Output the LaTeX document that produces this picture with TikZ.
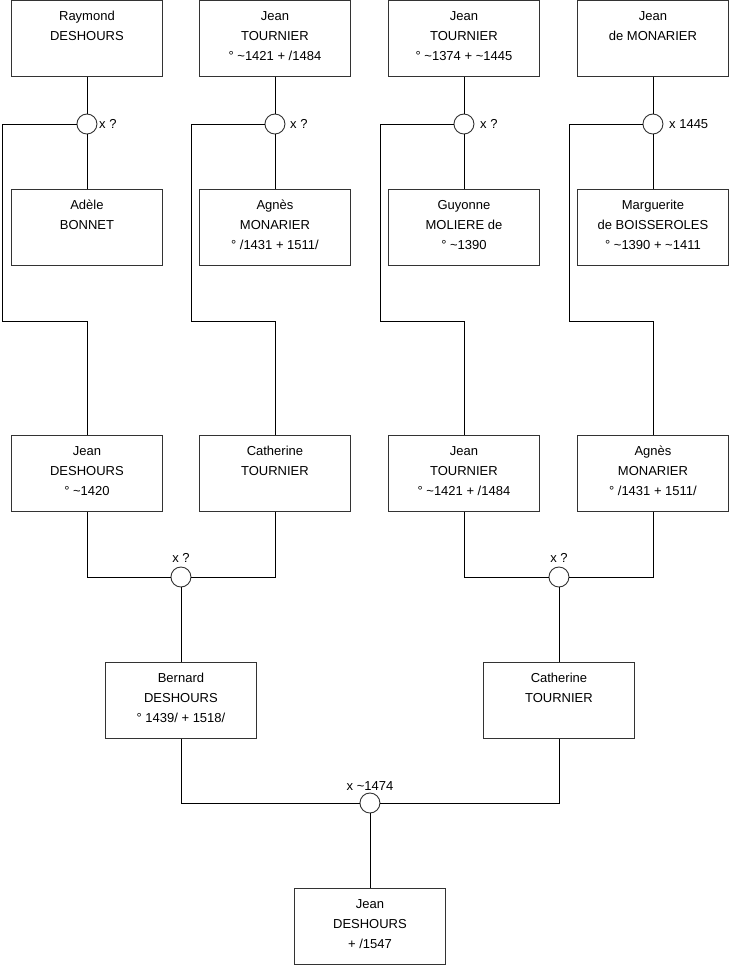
\documentclass[tikz,border=0pt]{standalone}
\usepackage{fontspec}
\setmainfont{Liberation Sans}
\newcommand{\ptxt}[1]{\parbox[c][76pt][t]{151pt}{\centering\fontsize{13}{20}\selectfont\rule{0pt}{20.5pt}#1}}
\begin{document}
\begin{tikzpicture}[x=1pt,y=-1pt,
  person/.style={draw=black!80, line width=0.9pt, inner sep=0pt, anchor=north west, minimum width=151pt, minimum height=76pt},
  marr/.style={draw=black!80, line width=0.9pt, fill=white, circle, inner sep=0pt, minimum size=20pt},
  lbl/.style={inner sep=0pt, font=\fontsize{13}{15}\selectfont},
  link/.style={draw=black, line width=0.9pt}]
\useasboundingbox (0,0) rectangle (740,975);
\fill[white] (0,0) rectangle (740,975);
% row 1
\node[person] (p1) at (11,0) {\ptxt{Raymond\\DESHOURS}};
\node[person] (p2) at (199,0) {\ptxt{Jean\\TOURNIER\\° \textasciitilde1421 + /1484}};
\node[person] (p3) at (388,0) {\ptxt{Jean\\TOURNIER\\° \textasciitilde1374 + \textasciitilde1445}};
\node[person] (p4) at (577,0) {\ptxt{Jean\\de MONARIER}};
% row 2
\node[person] (w1) at (11,189) {\ptxt{Adèle\\BONNET}};
\node[person] (w2) at (199,189) {\ptxt{Agnès\\MONARIER\\° /1431 + 1511/}};
\node[person] (w3) at (388,189) {\ptxt{Guyonne\\MOLIERE de\\° \textasciitilde1390}};
\node[person] (w4) at (577,189) {\ptxt{Marguerite\\de BOISSEROLES\\° \textasciitilde1390 + \textasciitilde1411}};
% marriages row 1
\node[marr] (m1) at (p1.south |- 0,124) {};
\node[marr] (m2) at (p2.south |- 0,124) {};
\node[marr] (m3) at (p3.south |- 0,124) {};
\node[marr] (m4) at (p4.south |- 0,124) {};
\node[lbl, anchor=west] (l1) at (99,124) {x ?};
\node[lbl, anchor=west] (l2) at (290,124) {x ?};
\node[lbl, anchor=west] (l3) at (480,124) {x ?};
\node[lbl, anchor=west] (l4) at (669,124) {x 1445};
% row 3
\node[person] (g1) at (11,435) {\ptxt{Jean\\DESHOURS\\° \textasciitilde1420}};
\node[person] (g2) at (199,435) {\ptxt{Catherine\\TOURNIER}};
\node[person] (g3) at (388,435) {\ptxt{Jean\\TOURNIER\\° \textasciitilde1421 + /1484}};
\node[person] (g4) at (577,435) {\ptxt{Agnès\\MONARIER\\° /1431 + 1511/}};
% rails
\coordinate (k1) at (2,321);
\coordinate (k2) at (191,321);
\coordinate (k3) at (380,321);
\coordinate (k4) at (569,321);
\draw[link] (p1.south) -- (m1.north);
\draw[link] (m1.south) -- (w1.north);
\draw[link] (m1.west) -| (k1) -| (g1.north);
\draw[link] (p2.south) -- (m2.north);
\draw[link] (m2.south) -- (w2.north);
\draw[link] (m2.west) -| (k2) -| (g2.north);
\draw[link] (p3.south) -- (m3.north);
\draw[link] (m3.south) -- (w3.north);
\draw[link] (m3.west) -| (k3) -| (g3.north);
\draw[link] (p4.south) -- (m4.north);
\draw[link] (m4.south) -- (w4.north);
\draw[link] (m4.west) -| (k4) -| (g4.north);
% row 4
\node[person] (b1) at (105,662) {\ptxt{Bernard\\DESHOURS\\° 1439/ + 1518/}};
\node[person] (b2) at (483,662) {\ptxt{Catherine\\TOURNIER}};
\node[marr] (m5) at (b1.north |- 0,577) {};
\node[marr] (m6) at (b2.north |- 0,577) {};
\node[lbl] (l5) at (181,558) {x ?};
\node[lbl] (l6) at (559,558) {x ?};
\draw[link] (g1.south) |- (m5.west);
\draw[link] (g2.south) |- (m5.east);
\draw[link] (m5.south) -- (b1.north);
\draw[link] (g3.south) |- (m6.west);
\draw[link] (g4.south) |- (m6.east);
\draw[link] (m6.south) -- (b2.north);
% bottom
\node[person] (f) at (294,888) {\ptxt{Jean\\DESHOURS\\+ /1547}};
\node[marr] (m7) at (f.north |- 0,803) {};
\node[lbl] (l7) at (370,786) {x \textasciitilde1474};
\draw[link] (b1.south) |- (m7.west);
\draw[link] (b2.south) |- (m7.east);
\draw[link] (m7.south) -- (f.north);
\end{tikzpicture}
\end{document}
